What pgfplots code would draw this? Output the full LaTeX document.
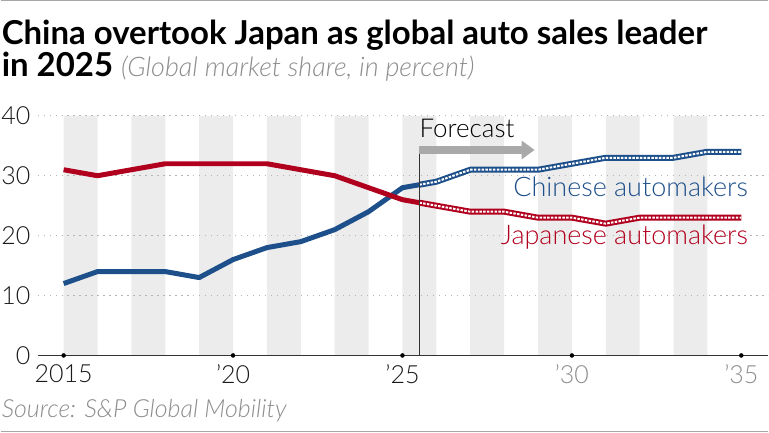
\documentclass[border=0pt]{standalone}
\usepackage{fontspec}
\setmainfont{Lato}
\newfontfamily\lt{Lato Light}
\usepackage{pgfplots}
\pgfplotsset{compat=1.18}
\usetikzlibrary{arrows.meta}
\definecolor{cnblue}{HTML}{1D4F8A}
\definecolor{jpred}{HTML}{B1001E}
\definecolor{band}{HTML}{ECECEC}
\definecolor{gridc}{HTML}{B4B4B4}
\definecolor{txtgray}{HTML}{8C8C8C}
\definecolor{arrowgray}{HTML}{A9A9A9}
\definecolor{axisc}{HTML}{333333}
\begin{document}
\begin{tikzpicture}
\path (0pt,0pt) rectangle (769pt,-433pt);
\draw[gray!70, line width=1.2pt] (0pt,-0.6pt) -- (769pt,-0.6pt);
\draw[gray!70, line width=1.2pt] (0pt,-432.4pt) -- (769pt,-432.4pt);
\node[anchor=base west, inner sep=0, font=\bfseries\fontsize{33}{38}\selectfont] at (1pt,-45pt) {China overtook Japan as global auto sales leader};
\node[anchor=base west, inner sep=0] at (1pt,-77pt) {\fontsize{33}{38}\selectfont\bfseries in 2025 \lt\mdseries\itshape\fontsize{27}{30}\selectfont\color{txtgray}(Global market share, in percent)};
\node[anchor=base west, inner sep=0, font=\lt\itshape\fontsize{25}{28}\selectfont, text=txtgray] at (1pt,-418pt) {Source: S\&P Global Mobility};
\begin{axis}[at={(37pt,-356pt)}, anchor=south west, scale only axis,
  width=732pt, height=240pt,
  xmin=2014.23, xmax=2035.8, ymin=0, ymax=40,
  axis line style={draw=none},
  ytick={0,10,20,30,40},
  xtick={2015,2020,2025,2030,2035},
  xticklabels={2015,’20,’25,\textcolor{txtgray}{’30},\textcolor{txtgray}{’35}},
  major tick length=0pt,
  tick label style={font=\lt\fontsize{25}{28}\selectfont, text=black!90},
  /pgf/number format/assume math mode=true,
  yticklabel style={anchor=east, inner sep=0pt, xshift=-7pt},
  xticklabel style={anchor=north, inner sep=0pt, yshift=-9pt},
  clip=false]
\addplot[ybar interval, fill=band, draw=none] coordinates {
 (2015,40)(2016,0)(2017,40)(2018,0)(2019,40)(2020,0)(2021,40)(2022,0)
 (2023,40)(2024,0)(2025,40)(2026,0)(2027,40)(2028,0)(2029,40)(2030,0)
 (2031,40)(2032,0)(2033,40)(2034,0)(2035,0)};
\addplot[gridc, line width=1.2pt, dash pattern=on 1.2pt off 4.8pt] coordinates {(2014.23,10)(2035.8,10)};
\addplot[gridc, line width=1.2pt, dash pattern=on 1.2pt off 4.8pt] coordinates {(2014.23,20)(2035.8,20)};
\addplot[gridc, line width=1.2pt, dash pattern=on 1.2pt off 4.8pt] coordinates {(2014.23,30)(2035.8,30)};
\addplot[gridc, line width=1.2pt, dash pattern=on 1.2pt off 4.8pt] coordinates {(2014.23,40)(2035.8,40)};
\addplot[axisc, line width=1pt] coordinates {(2014.23,0)(2035.8,0)};
% Chinese actual
\addplot[cnblue, line width=5pt, line join=round] coordinates {
 (2015,12)(2016,14)(2017,14)(2018,14)(2019,13)(2020,16)(2021,18)(2022,19)
 (2023,21)(2024,24)(2025,28)(2025.5,28.5)};
% Japanese actual
\addplot[jpred, line width=5pt, line join=round] coordinates {
 (2015,31)(2016,30)(2017,31)(2018,32)(2019,32)(2020,32)(2021,32)(2022,31)
 (2023,30)(2024,28)(2025,26)(2025.5,25.5)};
% Forecasts
\addplot[cnblue, line width=6pt, line join=round] coordinates {
 (2025.5,28.5)(2026,29)(2027,31)(2028,31)(2029,31)(2030,32)(2031,33)(2032,33)
 (2033,33)(2034,34)(2035,34)};
\addplot[white, line width=2pt, dash pattern=on 2.5pt off 1.3pt] coordinates {
 (2025.5,28.5)(2026,29)(2027,31)(2028,31)(2029,31)(2030,32)(2031,33)(2032,33)
 (2033,33)(2034,34)(2035,34)};
\addplot[jpred, line width=6pt, line join=round] coordinates {
 (2025.5,25.5)(2026,25)(2027,24)(2028,24)(2029,23)(2030,23)(2031,22)(2032,23)
 (2033,23)(2034,23)(2035,23)};
\addplot[white, line width=2pt, dash pattern=on 2.5pt off 1.3pt] coordinates {
 (2025.5,25.5)(2026,25)(2027,24)(2028,24)(2029,23)(2030,23)(2031,22)(2032,23)
 (2033,23)(2034,23)(2035,23)};
\addplot[axisc, line width=0.8pt] coordinates {(2025.5,0)(2025.5,35)};
\addplot[arrowgray, line width=8pt, -{Triangle[width=18pt,length=13pt]}] coordinates {(2025.5,34.3)(2028.9,34.3)};
\addplot[only marks, mark=*, mark size=2pt, black] coordinates {(2015,0)(2020,0)(2025,0)(2030,0)(2035,0)};
\node[anchor=base west, inner sep=0, font=\lt\fontsize{26}{30}\selectfont] at (axis cs:2025.5,36.3) {Forecast};
\node[anchor=base east, inner sep=0, text=cnblue, font=\lt\fontsize{27}{30}\selectfont] at (axis cs:2035.2,26.5) {Chinese automakers};
\node[anchor=base east, inner sep=0, text=jpred, font=\lt\fontsize{27}{30}\selectfont] at (axis cs:2035.2,18.5) {Japanese automakers};
\end{axis}
\end{tikzpicture}
\end{document}
